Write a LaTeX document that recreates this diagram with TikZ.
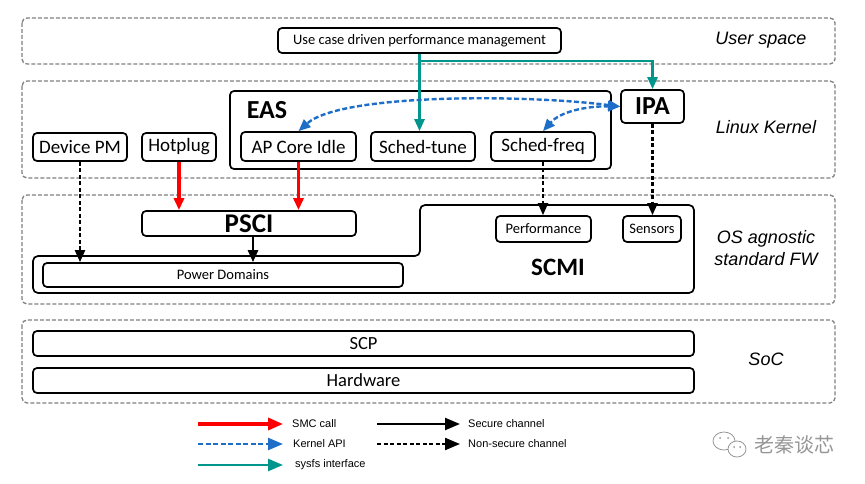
\documentclass[tikz,border=0pt]{standalone}
\usepackage{fontspec}
\setmainfont{Carlito}
\newfontfamily\arialf{Liberation Sans}
\newfontfamily\cjkf{Noto Sans CJK SC}
\usetikzlibrary{arrows.meta,calc}
\definecolor{smcred}{RGB}{255,0,0}
\definecolor{apiblue}{RGB}{30,110,200}
\definecolor{systeal}{RGB}{0,150,140}
\definecolor{zonegray}{RGB}{128,128,128}
\definecolor{wmgray}{RGB}{150,150,150}
\newcommand{\fsz}[1]{\fontsize{#1}{#1}\selectfont}
\begin{document}
\begin{tikzpicture}[x=1pt,y=-1pt,
  zone/.style={draw=zonegray, line width=1.3pt, dash pattern=on 4pt off 2pt, rounded corners=5pt},
  box/.style={draw=black, line width=1.7pt, rounded corners=4pt, fill=white, inner sep=0pt, align=center},
  zlabel/.style={font=\arialf\itshape\fontsize{18}{22}\selectfont, align=center},
  tip/.style={-{Triangle[length=12pt,width=10pt]}},
  bitip/.style={{Triangle[length=12pt,width=10pt]}-{Triangle[length=12pt,width=10pt]}},
  smc/.style={draw=smcred, line width=3.2pt},
  api/.style={draw=apiblue, line width=2.4pt, dash pattern=on 5pt off 2.5pt},
  sysfs/.style={draw=systeal, line width=2.6pt},
  sec/.style={draw=black, line width=2.4pt},
  nsec/.style={draw=black, line width=2.2pt, dash pattern=on 4pt off 2.5pt},
  legtip/.style={-{Triangle[length=15pt,width=12pt]}},
  legtxt/.style={font=\arialf\fsz{11}, anchor=west, inner sep=0pt}
]
\useasboundingbox (0,0) rectangle (865,484);

% zones
\draw[zone] (22,18) rectangle (835,64);
\draw[zone] (22,81) rectangle (835,178);
\draw[zone] (22,195) rectangle (835,304);
\draw[zone] (22,320) rectangle (835,403);

\node[zlabel] (lus) at (761,40) {User space};
\node[zlabel] (llk) at (766,127) {Linux Kernel};
\node[zlabel] (los) at (766,248) {OS agnostic\\standard FW};
\node[zlabel] (lsoc) at (766,359) {SoC};

% user space
\node[box, minimum width=283, minimum height=25, font=\fsz{14.5}] (uc) at (419.5,40.5) {Use case driven performance management};

% kernel
\node[box, minimum width=381, minimum height=78] (eas) at (420.5,130) {};
\node[font=\bfseries\fsz{26}, inner sep=0pt] (eastxt) at (267,110) {EAS};
\node[box, minimum width=63, minimum height=33, font=\bfseries\fsz{26}] (ipa) at (652.5,106.5) {IPA};
\node[box, minimum width=94, minimum height=28, font=\fsz{19}] (dpm) at (80,147) {Device PM};
\node[box, minimum width=74, minimum height=28, font=\fsz{19}] (hot) at (179,147) {Hotplug};
\node[box, minimum width=115, minimum height=29, font=\fsz{19}] (apci) at (298.5,146.5) {AP Core Idle};
\node[box, minimum width=104, minimum height=29, font=\fsz{19}] (stune) at (423,146.5) {Sched-tune};
\node[box, minimum width=104, minimum height=29, font=\fsz{19}] (sfreq) at (543,146.5) {Sched-freq};

% firmware
\draw[line width=1.7pt, rounded corners=5pt] (33,256) -- (420,256) -- (420,205) -- (694,205) -- (694,293) -- (33,293) -- cycle;
\node[font=\bfseries\fsz{25}, inner sep=0pt] (scmi) at (558,267) {SCMI};
\node[box, minimum width=214, minimum height=25, font=\bfseries\fsz{27}] (psci) at (249,223.5) {PSCI};
\node[box, minimum width=360, minimum height=24, font=\fsz{14.5}] (pd) at (223,275) {Power Domains};
\node[box, minimum width=95, minimum height=26, font=\fsz{14.5}] (perf) at (543.5,229) {Performance};
\node[box, minimum width=58, minimum height=26, font=\fsz{14.5}] (sens) at (652,229) {Sensors};

% SoC
\node[box, minimum width=661, minimum height=25, font=\fsz{18.5}] (scp) at (363.5,343.5) {SCP};
\node[box, minimum width=661, minimum height=25, font=\fsz{18.5}] (hw) at (363.5,380.5) {Hardware};

% sysfs arrows
\draw[sysfs, tip] (uc.south) -- (uc.south |- stune.north);
\draw[sysfs, tip] (uc.south) -- ++(0,7) -| (ipa.north);

% kernel API
\draw[api, bitip] (ipa.west) .. controls (520,94) and (340,94) .. (apci.north);
\draw[api, bitip] (ipa.west) .. controls (585,106) and (560,112) .. (sfreq.north);

% SMC calls
\draw[smc, tip] (hot.south) -- (hot.south |- psci.north);
\draw[smc, tip] (apci.south) -- (apci.south |- psci.north);

% non-secure
\draw[nsec, tip] (dpm.south) -- (dpm.south |- pd.north);
\draw[nsec, tip] (sfreq.south) -- (sfreq.south |- perf.north);
\draw[nsec, tip] (ipa.south) -- (ipa.south |- sens.north);

% secure
\draw[sec, tip] ($(psci.south)+(4,0)$) -- ($(psci.south |- pd.north)+(4,0)$);

% legend
\coordinate (r1) at (198,424); \coordinate (r2) at (283,424);
\coordinate (b1) at (198,444); \coordinate (b2) at (283,444);
\coordinate (t1) at (198,465); \coordinate (t2) at (283,465);
\coordinate (k1) at (377,424); \coordinate (k2) at (460,424);
\coordinate (n1) at (377,444); \coordinate (n2) at (460,444);
\draw[smc, legtip] (r1) -- (r2);
\draw[api, legtip] (b1) -- (b2);
\draw[sysfs, legtip] (t1) -- (t2);
\draw[sec, legtip] (k1) -- (k2);
\draw[nsec, legtip] (n1) -- (n2);
\node[legtxt] (lr) at (292,424) {SMC call};
\node[legtxt] (lb) at (293,444) {Kernel API};
\node[legtxt] (lt) at (295,465) {sysfs interface};
\node[legtxt] (lk) at (468,424) {Secure channel};
\node[legtxt] (ln) at (468,444) {Non-secure channel};

% watermark
\draw[wmgray, line width=0.8pt] (724,441) ellipse (11pt and 9pt);
\draw[wmgray, line width=0.8pt, fill=white] (737,449) ellipse (9pt and 8pt);
\fill[wmgray] (720,438) circle (1pt) (728,438) circle (1pt) (734,447) circle (1pt) (740,447) circle (1pt);
\node[font=\cjkf\fsz{20}, text=wmgray, anchor=west, inner sep=0pt] (wm) at (754,445) {老秦谈芯};
\end{tikzpicture}
\end{document}
